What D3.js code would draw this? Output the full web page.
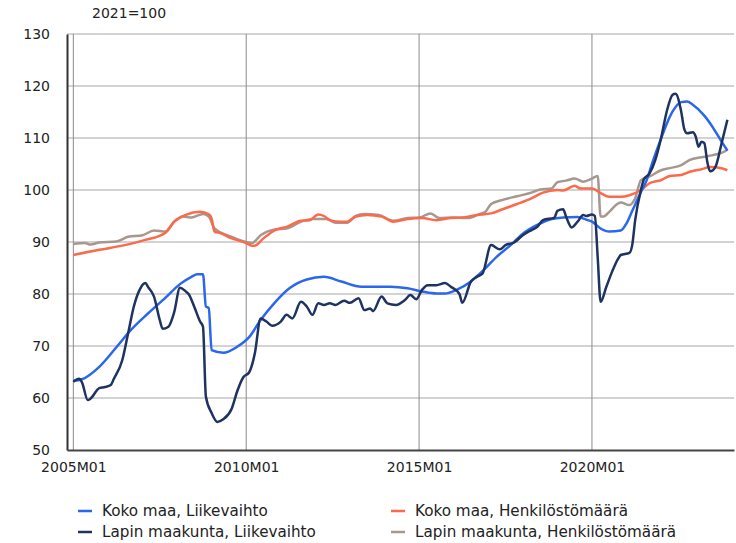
<!DOCTYPE html>
<html>
<head>
<meta charset="utf-8">
<script src="https://cdn.jsdelivr.net/npm/d3@7"></script>
<style>
  html, body { margin: 0; padding: 0; background: #fff; }
  svg { display: block; }
  text { font-family: "DejaVu Sans", Verdana, sans-serif; fill: #222; }
</style>
</head>
<body>
<svg id="chart" width="736" height="543"></svg>
<script>
// ---- Data (month index 0 = 2005M01) ----
const unitLabel = "2021=100";
const xTickLabels = ["2005M01", "2010M01", "2015M01", "2020M01"];
const xTickMonths = [0, 60, 120, 180];
const yTicks = [50, 60, 70, 80, 90, 100, 110, 120, 130];

const seriesNames = [
  "Koko maa, Liikevaihto",
  "Koko maa, Henkilöstömäärä",
  "Lapin maakunta, Liikevaihto",
  "Lapin maakunta, Henkilöstömäärä"
];

const kokoLiikevaihtoMonths = [0,3,9,15,20,26,32,37,41,43,45,46,47,48,52,57,61,65,70,75,81,87,93,100,110,116,121,126,129,133,138,142,147,152,156,161,166,170,175,178,180,183,186,190,192,194,197,199,201,204,206,208,211,213,215,219,222,225,227];
const kokoLiikevaihtoValues = [63.3,63.6,66.0,69.8,73.1,76.3,79.3,81.9,83.3,83.8,83.8,77.6,77.3,69.2,68.7,69.9,71.7,75.0,78.4,81.1,82.8,83.3,82.4,81.4,81.4,81.1,80.5,80.1,80.1,80.8,82.4,84.4,87.2,89.5,91.6,93.3,94.4,94.7,94.8,94.3,93.9,92.6,92.0,92.2,93.6,96.0,99.6,101.9,105.3,109.9,112.8,115.1,116.9,117.0,116.4,114.3,112.0,109.3,107.6];

const kokoHenkilostoMonths = [0,9,17,25,32,35,39,44,47,48,49,51,55,60,62,63,66,70,74,79,82,85,87,89,93,95,98,102,107,111,116,121,126,131,135,140,145,149,154,159,163,168,170,174,176,180,183,186,190,193,197,200,204,207,211,214,218,221,225,227];
const kokoHenkilostoValues = [87.5,88.5,89.3,90.4,91.8,93.9,95.2,95.8,95.3,94.5,92.0,91.7,90.7,89.8,89.3,89.3,90.7,92.3,92.9,94.1,94.2,95.3,95.0,94.2,93.9,93.9,94.9,95.2,94.9,93.9,94.4,94.6,94.2,94.6,94.7,95.2,95.5,96.3,97.3,98.4,99.5,100.0,99.9,100.8,100.3,100.3,99.4,98.7,98.7,99.0,100.0,101.3,101.9,102.7,102.9,103.5,104.0,104.4,104.2,103.8];

const lappiLiikevaihtoMonths = [0,2,3,5,6,9,11,13,14,17,19,21,23,25,26,28,30,31,33,35,37,39,40,42,44,45,46,48,50,52,55,57,59,61,63,65,67,69,72,74,76,79,81,83,85,87,89,91,94,96,99,101,103,104,107,109,112,115,117,119,121,123,126,129,131,134,135,138,140,142,145,148,150,153,156,159,161,163,167,168,170,171,173,175,177,178,180,181,182,183,185,187,189,190,193,194,195,197,198,200,202,204,206,208,209,211,212,213,215,216,217,218,219,220,221,222,223,225,227];
const lappiLiikevaihtoValues = [63.1,63.7,63.0,59.6,59.9,61.9,62.1,62.5,63.6,67.3,72.4,77.6,80.8,82.1,81.3,79.5,75.0,73.3,73.7,76.5,81.2,80.5,80.0,77.5,74.7,73.7,60.3,57.1,55.4,55.9,58.0,61.5,64.0,64.9,68.6,75.3,74.7,73.9,74.7,76.0,75.3,78.5,77.6,76.0,78.2,77.9,78.2,77.9,78.7,78.3,79.2,76.9,77.2,76.7,79.5,78.2,77.9,78.8,79.8,79.0,80.8,81.7,81.7,82.1,81.4,80.0,78.3,82.4,83.3,83.9,89.4,88.6,89.4,89.9,91.3,92.3,92.9,94.2,94.7,96.0,96.3,94.9,92.8,93.9,95.2,95.0,95.3,95.0,87.0,78.5,81.4,84.3,86.7,87.5,87.9,89.5,94.2,100.0,102.0,103.2,105.8,110.0,115.2,118.3,118.5,115.0,111.8,110.9,111.1,110.3,108.3,109.3,109.0,105.5,103.6,103.8,104.6,109.0,113.5];

const lappiHenkilostoMonths = [0,4,6,9,15,19,24,28,32,35,38,41,45,47,49,55,60,62,65,70,74,79,83,88,91,95,98,101,106,111,116,120,124,127,132,137,141,143,145,149,154,159,162,166,168,171,174,177,180,182,183,184,186,189,190,193,195,197,200,204,207,211,214,218,222,226,227];
const lappiHenkilostoValues = [89.6,89.8,89.5,89.9,90.1,91.0,91.3,92.2,92.0,93.9,94.9,94.7,95.4,94.9,92.6,91.0,90.0,89.8,91.3,92.4,92.6,93.9,94.4,94.4,93.7,93.7,95.0,95.4,95.2,94.1,94.6,94.7,95.5,94.6,94.7,94.6,95.4,95.8,97.3,98.1,98.8,99.5,100.1,100.3,101.5,101.8,102.2,101.6,102.2,102.7,94.9,94.9,95.8,97.4,97.6,97.1,98.4,101.9,102.6,103.8,104.2,104.8,105.8,106.3,106.7,107.4,107.8];

const seriesColors = ["#2a66ee", "#fb6a4a", "#1e3361", "#a6978f"];

// ---- Chart ----
const svg = d3.select("#chart");
const x = d3.scaleLinear().domain([-2.2, 229.3]).range([67, 734]);
const y = d3.scaleLinear().domain([50, 130]).range([450, 34]);

// horizontal gridlines
svg.append("g").selectAll("line").data(yTicks.filter(v => v > 50)).join("line")
  .attr("x1", x(-2.2)).attr("x2", x(229.3))
  .attr("y1", d => y(d)).attr("y2", d => y(d))
  .attr("stroke", "#c4c4c4").attr("stroke-width", 1.5);

// vertical gridlines
svg.append("g").selectAll("line").data(xTickMonths).join("line")
  .attr("x1", d => x(d)).attr("x2", d => x(d))
  .attr("y1", y(130)).attr("y2", y(50))
  .attr("stroke", "#8a8a8a").attr("stroke-width", 1);

// y axis
const yAxis = d3.axisLeft(y).tickValues(yTicks).tickSize(0).tickPadding(17);
const gy = svg.append("g").attr("transform", `translate(${x(-2.2)},0)`).call(yAxis);
gy.select(".domain").attr("stroke", "#333").attr("stroke-width", 2);
gy.selectAll("text").style("font-family", "DejaVu Sans, Verdana, sans-serif")
  .style("font-size", "14px").attr("fill", "#222");

// x axis
const xAxis = d3.axisBottom(x).tickValues(xTickMonths)
  .tickFormat((d, i) => xTickLabels[i]).tickSize(0).tickPadding(12);
const gx = svg.append("g").attr("transform", `translate(0,${y(50)})`).call(xAxis);
gx.select(".domain").attr("stroke", "#444").attr("stroke-width", 2);
gx.selectAll("text").style("font-family", "DejaVu Sans, Verdana, sans-serif")
  .style("font-size", "14px").attr("fill", "#222");

// unit label
svg.append("text").attr("x", 92).attr("y", 18).style("font-size", "14px").text(unitLabel);

// lines
const seriesData = [
  d3.zip(kokoLiikevaihtoMonths, kokoLiikevaihtoValues),
  d3.zip(kokoHenkilostoMonths, kokoHenkilostoValues),
  d3.zip(lappiLiikevaihtoMonths, lappiLiikevaihtoValues),
  d3.zip(lappiHenkilostoMonths, lappiHenkilostoValues)
];
const line = d3.line().x(d => x(d[0])).y(d => y(d[1])).curve(d3.curveMonotoneX);
const drawOrder = [3, 1, 0, 2];
drawOrder.forEach(i => {
  svg.append("path").datum(seriesData[i])
    .attr("fill", "none").attr("stroke", seriesColors[i])
    .attr("stroke-width", 2.5).attr("stroke-linejoin", "round")
    .attr("d", line);
});

// legend
const legendPos = [[78, 511], [391, 511], [78, 532], [391, 532]];
const lg = svg.append("g").selectAll("g").data(seriesNames).join("g")
  .attr("transform", (d, i) => `translate(${legendPos[i][0]},${legendPos[i][1]})`);
lg.append("line").attr("x1", 0).attr("x2", 14).attr("y1", 0).attr("y2", 0)
  .attr("stroke", (d, i) => seriesColors[i]).attr("stroke-width", 2.5);
lg.append("text").attr("x", 24).attr("y", 0).attr("dy", "0.35em")
  .style("font-size", "15.2px").text(d => d);
</script>
</body>
</html>
